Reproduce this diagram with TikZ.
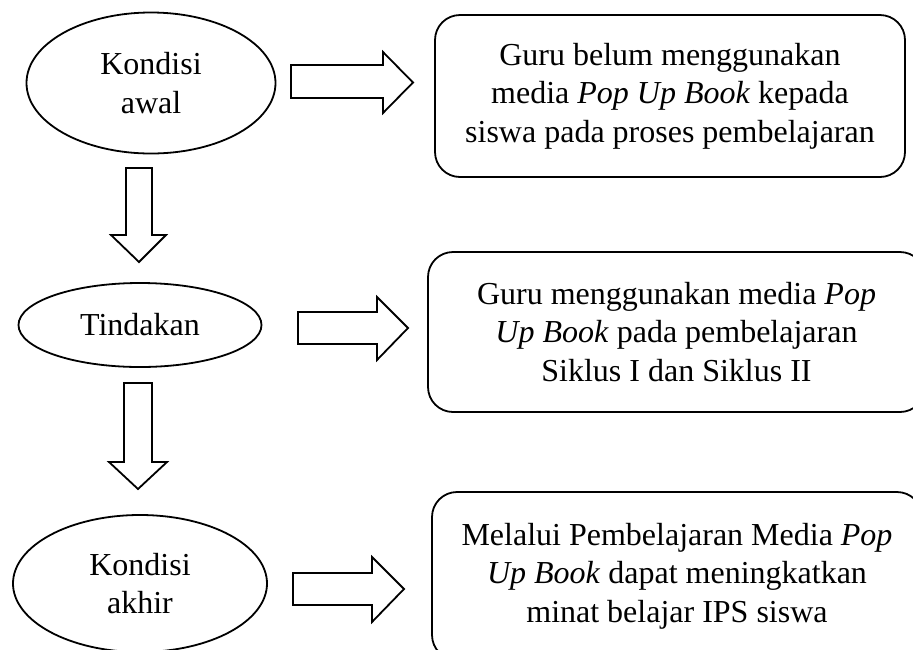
\documentclass[tikz,border=0pt]{standalone}
\usepackage{fontspec}
\setmainfont{Liberation Serif}
\usetikzlibrary{shapes.geometric}
\begin{document}
\begin{tikzpicture}[x=1pt,y=-1pt,
  lw/.style={line width=1.8pt},
  oval/.style={lw,draw,ellipse,inner sep=0pt,align=center,font=\fontsize{32}{38.5}\selectfont},
  rbox/.style={lw,draw,rounded corners=25pt,inner sep=0pt,align=center,font=\fontsize{32}{38.5}\selectfont},
  barrow/.style={lw,draw,line join=miter}]
\clip (0,0) rectangle (913,649);
\useasboundingbox (0,0) rectangle (913,649);
% ellipses
\node[oval,minimum width=249pt,minimum height=141pt] (e1) at (151,83) {Kondisi\\awal};
\node[oval,minimum width=243pt,minimum height=84pt] (e2) at (140,325) {Tindakan};
\node[oval,minimum width=254pt,minimum height=137pt] (e3) at (140,583.5) {Kondisi\\akhir};
% boxes
\node[rbox,minimum width=470pt,minimum height=162pt] (b1) at (670,96)
  {Guru belum menggunakan\\media \textit{Pop Up Book} kepada\\siswa pada proses pembelajaran};
\node[rbox,minimum width=497pt,minimum height=160pt] (b2) at (676.5,332)
  {Guru menggunakan media \textit{Pop}\\\textit{Up Book} pada pembelajaran\\Siklus I dan Siklus II};
\node[rbox,minimum width=490pt,minimum height=168pt] (b3) at (677,576)
  {Melalui Pembelajaran Media \textit{Pop}\\\textit{Up Book} dapat meningkatkan\\minat belajar IPS siswa};
% right block arrows
\draw[barrow] (291,65) -- (383,65) -- (383,52) -- (413,82.5) -- (383,113) -- (383,98) -- (291,98) -- cycle;
\draw[barrow] (298,312) -- (377,312) -- (377,297) -- (408,328) -- (377,360) -- (377,344) -- (298,344) -- cycle;
\draw[barrow] (293,573) -- (372,573) -- (372,557) -- (404,589) -- (372,622) -- (372,605) -- (293,605) -- cycle;
% down block arrows
\draw[barrow] (126,168) -- (126,235) -- (111,235) -- (139,262) -- (166,235) -- (152,235) -- (152,168) -- cycle;
\draw[barrow] (124,383) -- (124,462) -- (109,462) -- (138,489) -- (167,462) -- (152,462) -- (152,383) -- cycle;
\end{tikzpicture}
\end{document}
